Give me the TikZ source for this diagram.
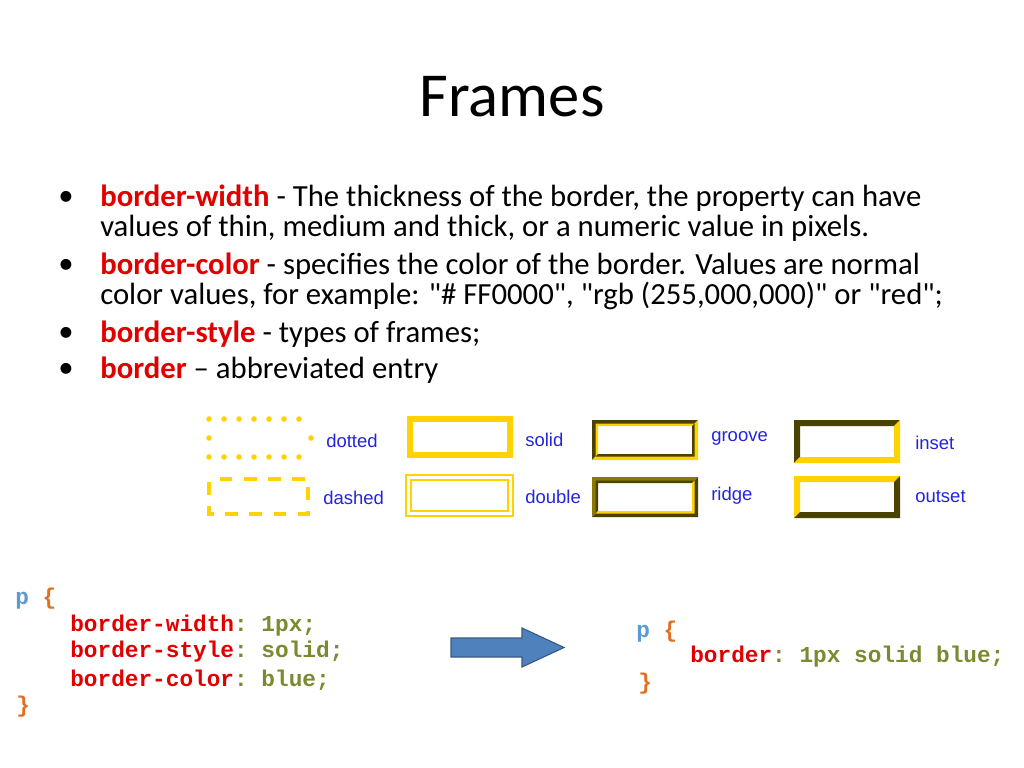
\documentclass[tikz,border=0pt]{standalone}
\usepackage{fontspec}
\setmainfont{Carlito}
\setsansfont{Liberation Sans}
\setmonofont{Liberation Mono}
\usetikzlibrary{positioning}
\definecolor{frameyellow}{HTML}{FFD200}
\definecolor{framedark}{HTML}{4A4200}
\definecolor{frameolive}{HTML}{8A7A00}
\definecolor{keyred}{HTML}{E00000}
\definecolor{valolive}{HTML}{7A8A30}
\definecolor{selblue}{HTML}{5B9BD5}
\definecolor{braceorange}{HTML}{E07020}
\definecolor{labelblue}{HTML}{2424E0}
\definecolor{arrowblue}{HTML}{4F81BD}
\tikzset{
    %Define style for bullet lines
    bulletline/.style={
           anchor=west,
           inner sep=0pt,
           font=\fontsize{21.6}{26}\selectfont},
    framelabel/.style={
           anchor=west,
           inner sep=0pt,
           text=labelblue,
           font=\sffamily\fontsize{13}{15}\selectfont},
    codeline/.style={
           anchor=west,
           inner sep=0pt,
           font=\ttfamily\bfseries\fontsize{16}{18}\selectfont}
}
% bevelled frame: x1,y1,x2,y2,width,top-left colour,bottom-right colour
\newcommand{\bevelframe}[7]{%
  \fill[#6] (#1,#2) -- (#3,#2) -- (#3-#5,#2+#5) -- (#1+#5,#2+#5) -- (#1+#5,#4-#5) -- (#1,#4) -- cycle;
  \fill[#7] (#3,#4) -- (#1,#4) -- (#1+#5,#4-#5) -- (#3-#5,#4-#5) -- (#3-#5,#2+#5) -- (#3,#2) -- cycle;}
\newcommand{\kw}[1]{\textcolor{keyred}{#1}}
\newcommand{\vl}[1]{\textcolor{valolive}{#1}}

\begin{document}
\begin{tikzpicture}[x=0.703pt,y=-0.703pt]
\useasboundingbox (0,0) rectangle (1024,768);
\node[font=\fontsize{44}{50}\selectfont, inner sep=0pt] (title) at (512,97) {Frames};
% bullets
\foreach \yy in {198,266,334,370}
  \node[bulletline] at (58,\yy) {\textbullet};
\node[bulletline] (b1) at (100,198) {\textcolor{keyred}{\textbf{border-width}} - The thickness of the border, the property can have};
\node[bulletline] (b1b) at (100,228) {values of thin, medium and thick, or a numeric value in pixels.};
\node[bulletline] (b2) at (100,266) {\textcolor{keyred}{\textbf{border-color}} - specifies the color of the border. Values are normal};
\node[bulletline] (b2b) at (100,296) {color values, for example: \textquotedbl\# FF0000\textquotedbl, \textquotedbl rgb (255,000,000)\textquotedbl{} or \textquotedbl red\textquotedbl;};
\node[bulletline] (b3) at (100,334) {\textcolor{keyred}{\textbf{border-style}} - types of frames;};
\node[bulletline] (b4) at (100,370) {\textcolor{keyred}{\textbf{border}} -- abbreviated entry};
% frame samples
\foreach \xx in {209,224,...,311} {
  \fill[frameyellow] (\xx,419) circle (2.8);
  \fill[frameyellow] (\xx,457) circle (2.8);}
\fill[frameyellow] (209,438) circle (2.8);
\fill[frameyellow] (311,438) circle (2.8);
\draw[frameyellow, line width=3.5pt, dash pattern=on 9pt off 8pt, dash phase=-2pt] (209,479) rectangle (308,514);
\draw[frameyellow, line width=4pt] (410,419) rectangle (510,455);
\draw[frameyellow, line width=0.9pt] (406,475) rectangle (513,516);
\draw[frameyellow, line width=0.9pt] (411,480) rectangle (508,511);
\bevelframe{592}{420}{698}{460}{5}{framedark}{frameyellow}
\bevelframe{595.5}{423.5}{694.5}{456.5}{2.5}{frameyellow}{framedark}
\bevelframe{592}{477}{698}{517}{5}{frameolive}{framedark}
\bevelframe{595.5}{480.5}{694.5}{513.5}{2.5}{framedark}{frameyellow}
\bevelframe{794}{420}{900}{463}{6}{framedark}{frameyellow}
\bevelframe{794}{476}{900}{518}{6}{frameyellow}{framedark}
\node[framelabel] (dotted) at (326,441) {dotted};
\node[framelabel] (dashed) at (323,498) {dashed};
\node[framelabel] (solid) at (525,440) {solid};
\node[framelabel] (double) at (525,497) {double};
\node[framelabel] (groove) at (711,438) {groove};
\node[framelabel] (ridge) at (711,496) {ridge};
\node[framelabel] (inset) at (915,443) {inset};
\node[framelabel] (outset) at (915,497) {outset};
% code
\node[codeline] (selL) at (15,599) {\textcolor{selblue}{p} \textcolor{braceorange}{\{}};
\node[codeline] (width) at (70,626) {\kw{border-width}\vl{: 1px;}};
\node[codeline] (style) at (70,652) {\kw{border-style}\vl{: solid;}};
\node[codeline] (color) at (70,680) {\kw{border-color}\vl{: blue;}};
\node[codeline] (endL) at (16,707) {\textcolor{braceorange}{\}}};
\node[codeline] (selR) at (636,632) {\textcolor{selblue}{p} \textcolor{braceorange}{\{}};
\node[codeline] (short) at (690,657) {\kw{border}\vl{: 1px solid blue;}};
\node[codeline] (endR) at (638,684) {\textcolor{braceorange}{\}}};
% arrow
\draw[fill=arrowblue, draw=arrowblue!70!black, line width=0.8pt]
  (451,638) -- (522,638) -- (522,628) -- (564,647.5) -- (522,667) -- (522,657) -- (451,657) -- cycle;
\end{tikzpicture}
\end{document}
